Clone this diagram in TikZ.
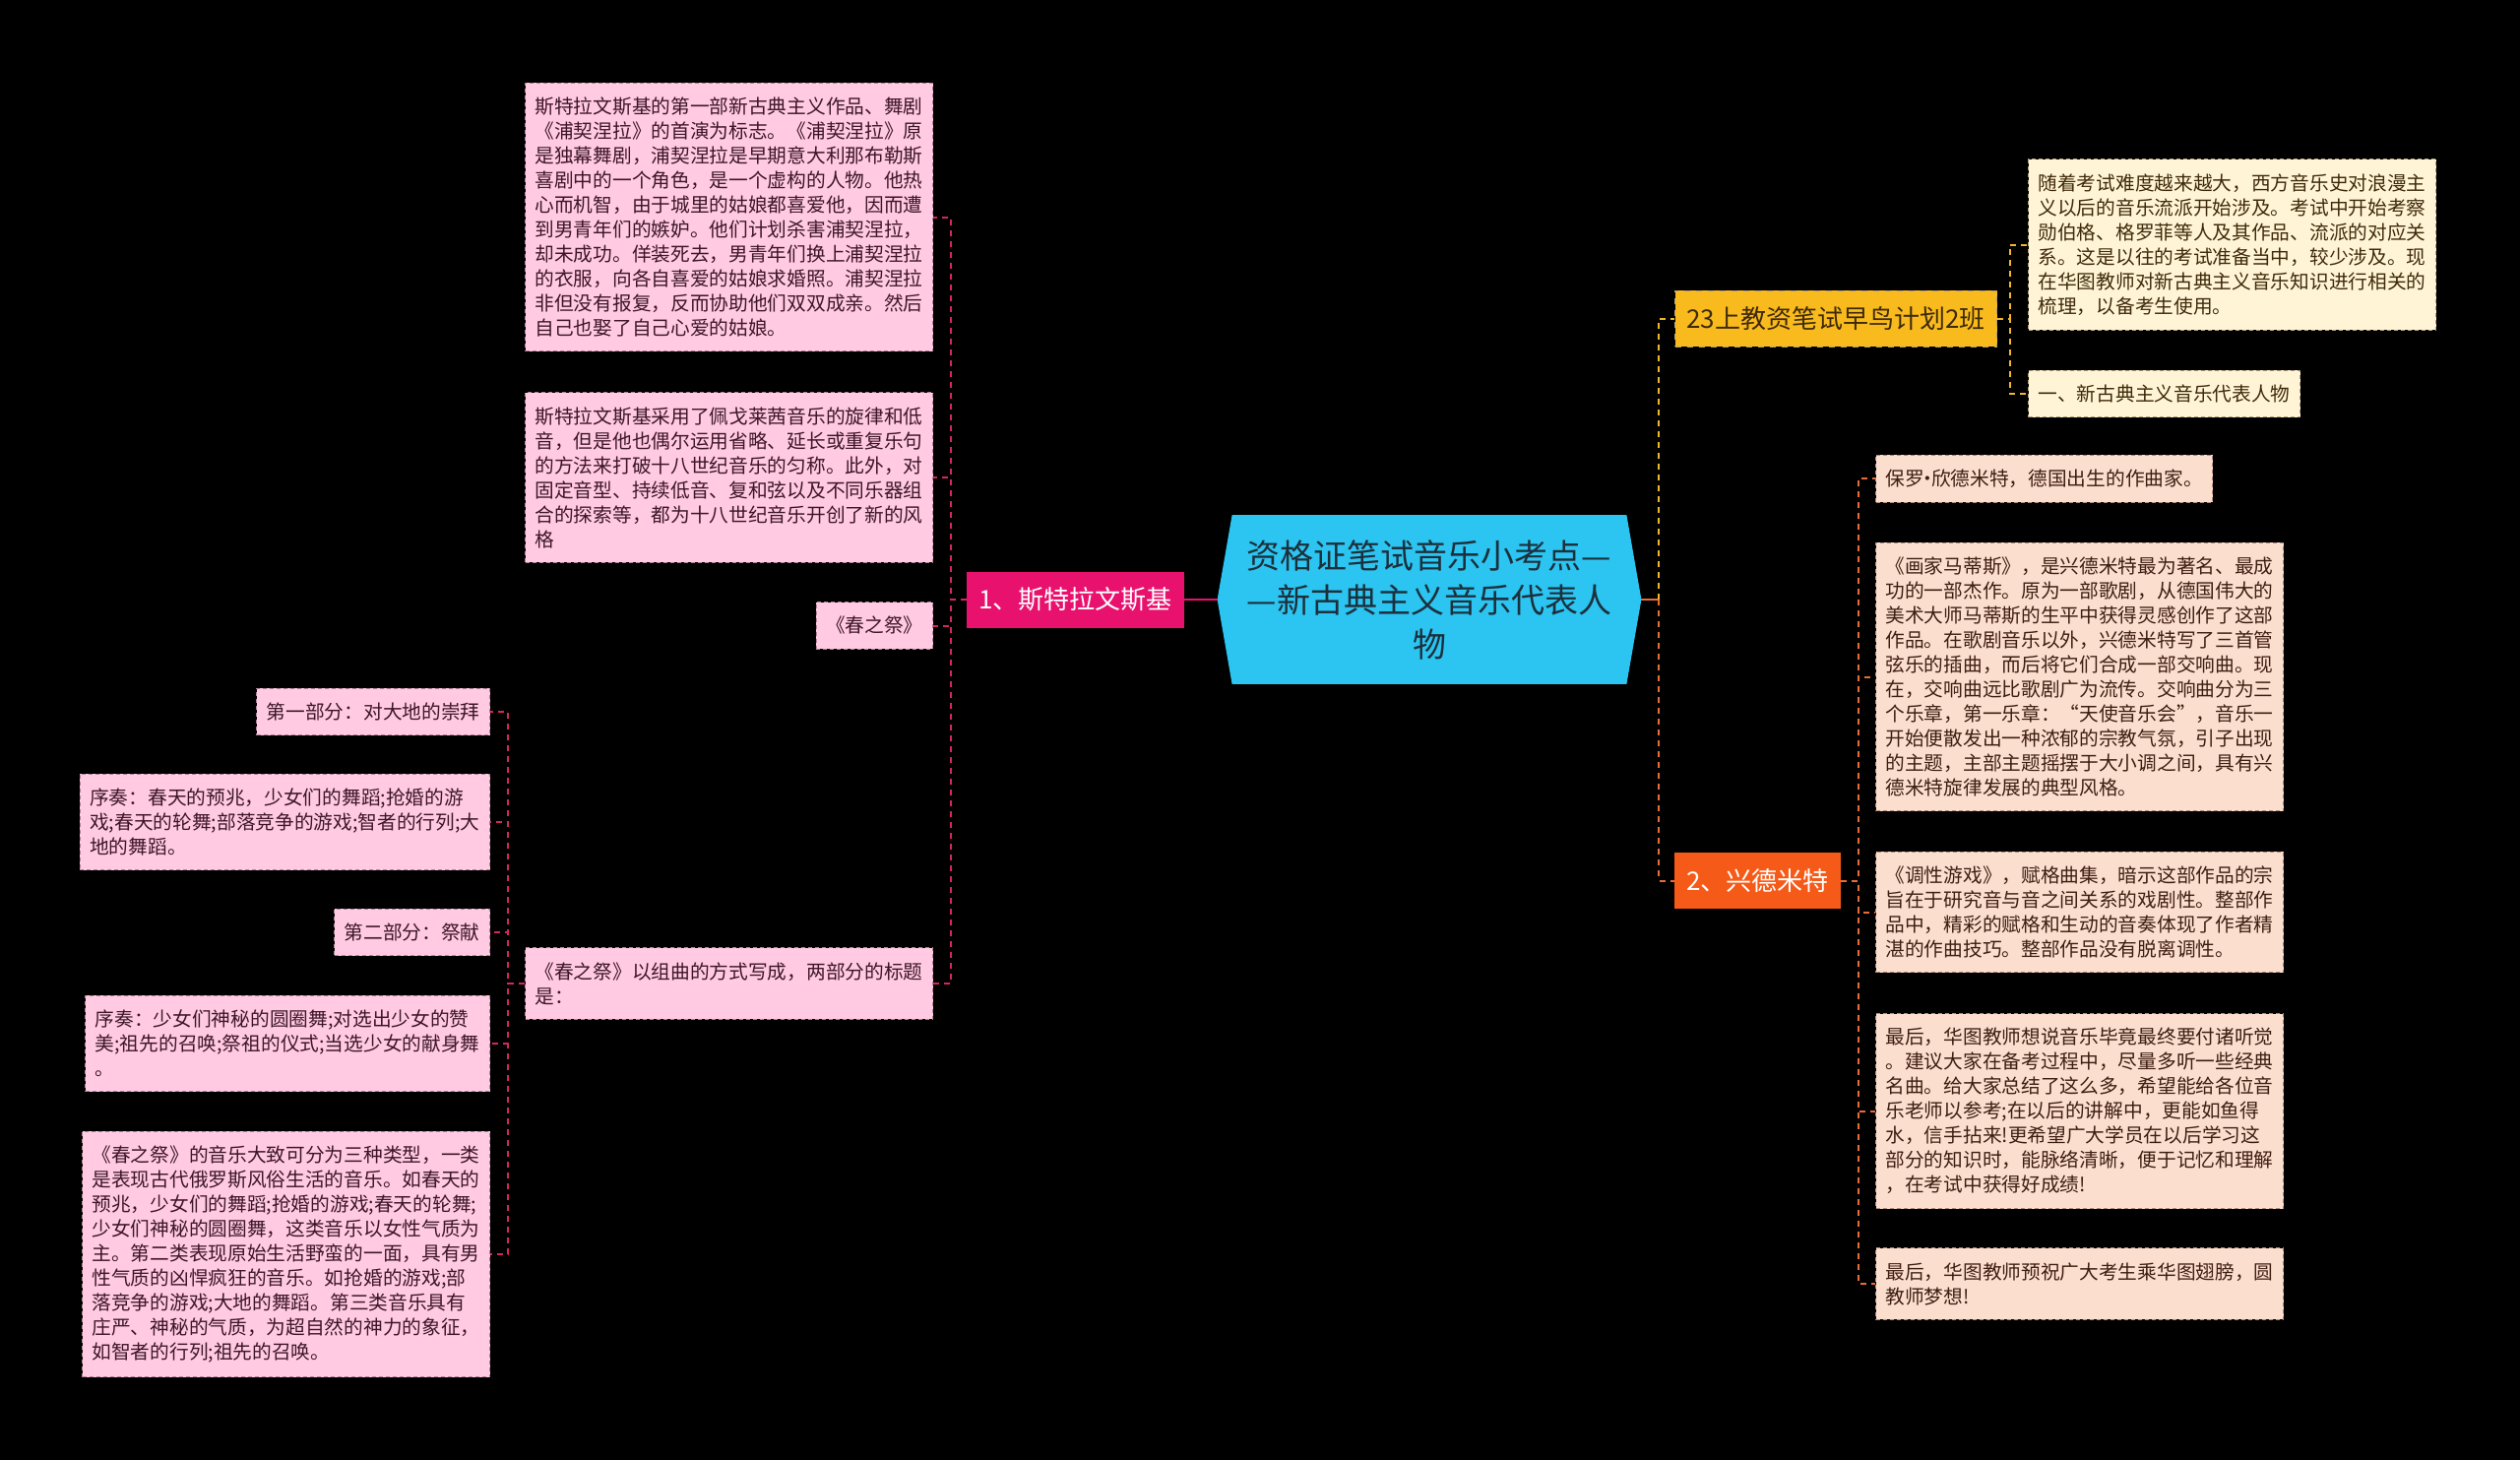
\documentclass[tikz,border=0pt]{standalone}
\usepackage{fontspec}
\setmainfont{Noto Sans CJK SC}
\usetikzlibrary{backgrounds}

\definecolor{racineBleu}{RGB}{44,196,240}
\definecolor{texteRacine}{RGB}{28,48,60}
\definecolor{brancheRose}{RGB}{232,18,110}
\definecolor{brancheOr}{RGB}{248,186,28}
\definecolor{brancheOrange}{RGB}{246,90,24}
\definecolor{feuilleRose}{RGB}{255,202,226}
\definecolor{feuilleCreme}{RGB}{255,245,214}
\definecolor{feuillePeche}{RGB}{252,222,206}
\definecolor{bordRose}{RGB}{176,132,152}
\definecolor{bordCreme}{RGB}{176,160,120}
\definecolor{bordPeche}{RGB}{176,140,124}
\definecolor{texteRose}{RGB}{62,22,40}
\definecolor{texteCreme}{RGB}{62,42,10}
\definecolor{textePeche}{RGB}{62,30,18}
\definecolor{lienRose}{RGB}{214,38,98}
\definecolor{lienOr}{RGB}{240,184,40}
\definecolor{lienOrange}{RGB}{232,108,56}

\tikzset{
  feuille/.style={dashed,dash pattern=on 2pt off 1.5pt,line width=0.5pt,
    align=left,inner xsep=5pt,inner ysep=7.3pt,
    font=\fontsize{9.85}{12.5}\selectfont},
  fRose/.style={feuille,fill=feuilleRose,draw=bordRose,text=texteRose},
  fCreme/.style={feuille,fill=feuilleCreme,draw=bordCreme,text=texteCreme},
  fPeche/.style={feuille,fill=feuillePeche,draw=bordPeche,text=textePeche},
  branche/.style={minimum height=28.5pt,inner xsep=6pt,inner ysep=0pt,
    font=\fontsize{13}{15}\selectfont},
  lien/.style={dashed,dash pattern=on 3pt off 2.5pt,line width=1pt},
  trait/.style={line width=1pt},
}

\begin{document}
\begin{tikzpicture}[x=0.5pt,y=-0.5pt]
  % --- Racine ---
  \node[minimum width=215pt,minimum height=85.5pt,inner sep=0pt,align=center,
        text=texteRacine,font=\fontsize{17}{22.5}\selectfont] (root) at (1452,609)
    {资格证笔试音乐小考点—\\—新古典主义音乐代表人\\物};

  % --- Branches ---
  \node[branche,fill=brancheRose,text=white,anchor=east] (b1) at (1203,609) {1、斯特拉文斯基};
  \node[branche,fill=brancheOr,draw=bordCreme,dashed,line width=0.5pt,text=texteCreme,anchor=west]
    (b23) at (1701,323.5) {23上教资笔试早鸟计划2班};
  \node[branche,fill=brancheOrange,text=white,anchor=west] (b2) at (1701,894.5) {2、兴德米特};

  % --- Stravinsky ---
  \node[fRose,anchor=east] (l1) at (948,220.5) {斯特拉文斯基的第一部新古典主义作品、舞剧\\《浦契涅拉》的首演为标志。《浦契涅拉》原\\是独幕舞剧，浦契涅拉是早期意大利那布勒斯\\喜剧中的一个角色，是一个虚构的人物。他热\\心而机智，由于城里的姑娘都喜爱他，因而遭\\到男青年们的嫉妒。他们计划杀害浦契涅拉，\\却未成功。佯装死去，男青年们换上浦契涅拉\\的衣服，向各自喜爱的姑娘求婚照。浦契涅拉\\非但没有报复，反而协助他们双双成亲。然后\\自己也娶了自己心爱的姑娘。};
  \node[fRose,anchor=east] (l2) at (948,485) {斯特拉文斯基采用了佩戈莱茜音乐的旋律和低\\音，但是他也偶尔运用省略、延长或重复乐句\\的方法来打破十八世纪音乐的匀称。此外，对\\固定音型、持续低音、复和弦以及不同乐器组\\合的探索等，都为十八世纪音乐开创了新的风\\格};
  \node[fRose,anchor=east] (l3) at (948,635.5) {《春之祭》};
  \node[fRose,anchor=east] (l4) at (948,999) {《春之祭》以组曲的方式写成，两部分的标题\\是：};

  % --- Le Sacre : parties ---
  \node[fRose,anchor=east] (c1) at (498,723) {第一部分：对大地的崇拜};
  \node[fRose,anchor=east] (c2) at (498,835) {序奏：春天的预兆，少女们的舞蹈;抢婚的游\\戏;春天的轮舞;部落竞争的游戏;智者的行列;大\\地的舞蹈。};
  \node[fRose,anchor=east] (c3) at (498,947) {第二部分：祭献};
  \node[fRose,anchor=east] (c4) at (498,1060) {序奏：少女们神秘的圆圈舞;对选出少女的赞\\美;祖先的召唤;祭祖的仪式;当选少女的献身舞\\。};
  \node[fRose,anchor=east] (c5) at (498,1274) {《春之祭》的音乐大致可分为三种类型，一类\\是表现古代俄罗斯风俗生活的音乐。如春天的\\预兆，少女们的舞蹈;抢婚的游戏;春天的轮舞;\\少女们神秘的圆圈舞，这类音乐以女性气质为\\主。第二类表现原始生活野蛮的一面，具有男\\性气质的凶悍疯狂的音乐。如抢婚的游戏;部\\落竞争的游戏;大地的舞蹈。第三类音乐具有\\庄严、神秘的气质，为超自然的神力的象征，\\如智者的行列;祖先的召唤。};

  % --- Classe 23 ---
  \node[fCreme,anchor=west] (r1) at (2060,248.5) {随着考试难度越来越大，西方音乐史对浪漫主\\义以后的音乐流派开始涉及。考试中开始考察\\勋伯格、格罗菲等人及其作品、流派的对应关\\系。这是以往的考试准备当中，较少涉及。现\\在华图教师对新古典主义音乐知识进行相关的\\梳理，以备考生使用。};
  \node[fCreme,anchor=west] (r2) at (2060,400) {一、新古典主义音乐代表人物};

  % --- Hindemith ---
  \node[fPeche,anchor=west] (p1) at (1905,486) {保罗\kern-.32em·\kern-.32em欣德米特，德国出生的作曲家。};
  \node[fPeche,anchor=west] (p2) at (1905,687.5) {《画家马蒂斯》，是兴德米特最为著名、最成\\功的一部杰作。原为一部歌剧，从德国伟大的\\美术大师马蒂斯的生平中获得灵感创作了这部\\作品。在歌剧音乐以外，兴德米特写了三首管\\弦乐的插曲，而后将它们合成一部交响曲。现\\在，交响曲远比歌剧广为流传。交响曲分为三\\个乐章，第一乐章：“天使音乐会”，音乐一\\开始便散发出一种浓郁的宗教气氛，引子出现\\的主题，主部主题摇摆于大小调之间，具有兴\\德米特旋律发展的典型风格。};
  \node[fPeche,anchor=west] (p3) at (1905,926.5) {《调性游戏》，赋格曲集，暗示这部作品的宗\\旨在于研究音与音之间关系的戏剧性。整部作\\品中，精彩的赋格和生动的音奏体现了作者精\\湛的作曲技巧。整部作品没有脱离调性。};
  \node[fPeche,anchor=west] (p4) at (1905,1128.5) {最后，华图教师想说音乐毕竟最终要付诸听觉\\。建议大家在备考过程中，尽量多听一些经典\\名曲。给大家总结了这么多，希望能给各位音\\乐老师以参考;在以后的讲解中，更能如鱼得\\水，信手拈来!更希望广大学员在以后学习这\\部分的知识时，能脉络清晰，便于记忆和理解\\，在考试中获得好成绩!};
  \node[fPeche,anchor=west] (p5) at (1905,1304) {最后，华图教师预祝广大考生乘华图翅膀，圆\\教师梦想!};

  % --- Liens ---
  \coordinate (jg) at (966,609);
  \coordinate (jc) at (516,999);
  \coordinate (jd) at (1685,609);
  \coordinate (j23) at (2042,323.5);
  \coordinate (j2) at (1888,894.5);
  \draw[trait,brancheRose] (root.west) -- (b1.east);
  \foreach \f in {l1,l2,l3,l4}
    \draw[lien,lienRose] (b1.west) -- (jg) |- (\f.east);
  \foreach \f in {c1,c2,c3,c4,c5}
    \draw[lien,lienRose] (l4.west) -- (jc) |- (\f.east);
  \draw[trait,lienOrange] (root.east) -- (jd);
  \draw[lien,lienOr] (jd) |- (b23.west);
  \draw[lien,lienOrange] (jd) |- (b2.west);
  \foreach \f in {r1,r2}
    \draw[lien,lienOr] (b23.east) -- (j23) |- (\f.west);
  \foreach \f in {p1,p2,p3,p4,p5}
    \draw[lien,lienOrange] (b2.east) -- (j2) |- (\f.west);

  % --- Fond ---
  \begin{scope}[on background layer]
    \fill[black] (0,0) rectangle (2560,1483);
    \fill[racineBleu] (root.west) -- ([xshift=7.5pt]root.north west)
      -- ([xshift=-7.5pt]root.north east) -- (root.east)
      -- ([xshift=-7.5pt]root.south east) -- ([xshift=7.5pt]root.south west) -- cycle;
  \end{scope}
\end{tikzpicture}
\end{document}
